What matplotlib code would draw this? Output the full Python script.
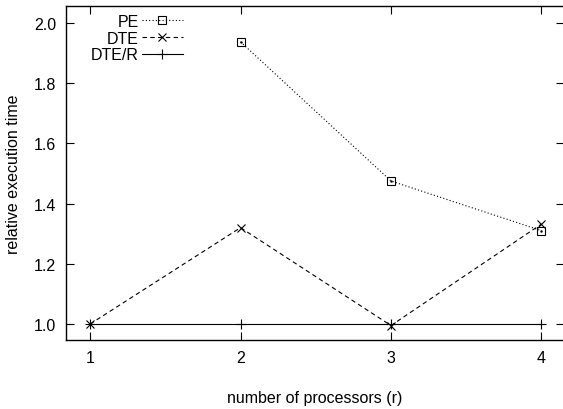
import matplotlib
matplotlib.use("Agg")
import matplotlib.pyplot as plt
import numpy as np

plt.rcParams['font.family'] = ['Liberation Sans', 'DejaVu Sans']
plt.rcParams['font.size'] = 11.5

# Daten
prozessoren = [1, 2, 3, 4]
pe_x = [2, 3, 4]
pe = [1.937, 1.475, 1.310]
dte = [1.000, 1.320, 0.995, 1.332]
dte_r = [1.0, 1.0, 1.0, 1.0]

fig = plt.figure(figsize=(5.63, 4.10), dpi=100)
ax = fig.add_axes([66 / 563, 1 - 341 / 410, (564 - 66) / 563, (341 - 7) / 410])

ax.plot(pe_x, pe, color="black", lw=0.8, ls=(0, (1, 2)),
        marker="s", ms=6, mfc="none", mew=0.8, label="PE")
ax.plot(pe_x, pe, ls="none", marker=".", ms=1.5, color="black")
ax.plot(prozessoren, dte, color="black", lw=0.8, ls=(0, (4, 3)),
        marker="x", ms=5.5, mew=0.8, label="DTE")
ax.plot(prozessoren, dte_r, color="black", lw=0.8, ls="-",
        marker="+", ms=6.5, mew=0.8, label="DTE/R")

ax.set_xlim(0.84, 4.15)
ax.set_ylim(0.947, 2.056)
ax.set_xticks(prozessoren)
ax.set_yticks(np.arange(1.0, 2.01, 0.2))
ax.yaxis.set_major_formatter(matplotlib.ticker.FormatStrFormatter("%.1f"))
ax.tick_params(direction="in", length=6, width=0.8, top=True, right=True, pad=7)
for s in ax.spines.values():
    s.set_linewidth(1.0)

ax.set_xlabel("number of processors (r)", labelpad=18)
ax.set_ylabel("relative execution time", labelpad=9)

leg = ax.legend(loc="upper left", bbox_to_anchor=(91 / 563, 1 - 15 / 410),
                bbox_transform=fig.transFigure, frameon=False, markerfirst=False,
                alignment="right", handlelength=2.55, handletextpad=0.2,
                labelspacing=0.1, borderpad=0, borderaxespad=0)

fig.savefig("out.png", dpi=100)
